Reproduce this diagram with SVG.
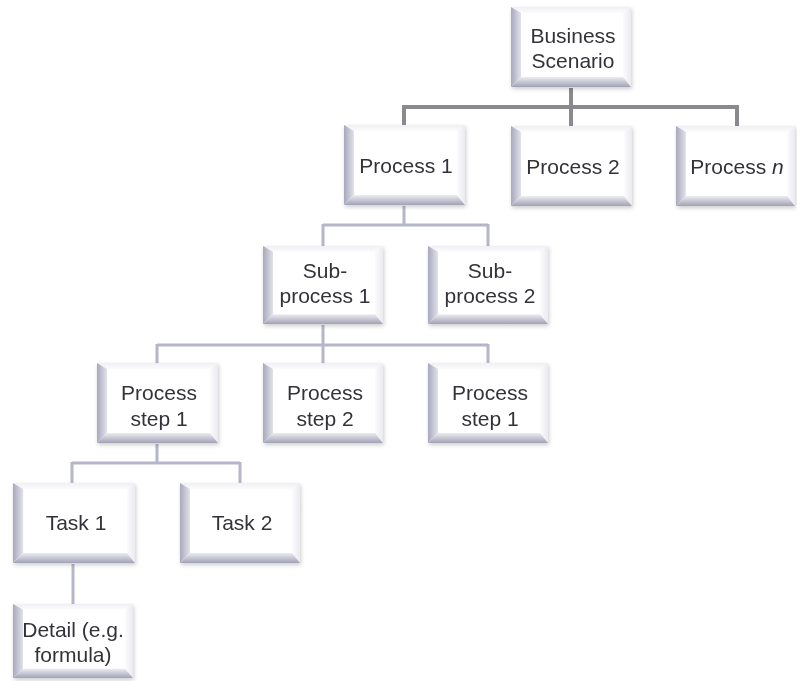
<svg xmlns="http://www.w3.org/2000/svg" xmlns:xlink="http://www.w3.org/1999/xlink" width="797" height="681" viewBox="0 0 797 681">
<style>
.lbl{font-family:"Liberation Sans",Arial,sans-serif;font-size:21px;fill:#333338;text-anchor:middle}
.c1{fill:none;stroke:#8a8a8e;stroke-width:4}
.c2{fill:none;stroke:#b6b6ca;stroke-width:3}
</style>
<defs>
<linearGradient id="gL" x1="0" y1="0" x2="1" y2="0">
<stop offset="0" stop-color="#a8a8bc"/><stop offset="1" stop-color="#e2e2ec"/>
</linearGradient>
<linearGradient id="gB" x1="0" y1="0" x2="0" y2="1">
<stop offset="0" stop-color="#ececf2"/><stop offset="1" stop-color="#a2a2b6"/>
</linearGradient>
<linearGradient id="gT" x1="0" y1="0" x2="0" y2="1">
<stop offset="0" stop-color="#f0f0f4"/><stop offset="1" stop-color="#fcfcfd"/>
</linearGradient>
<linearGradient id="gR" x1="0" y1="0" x2="1" y2="0">
<stop offset="0" stop-color="#fcfcfd"/><stop offset="1" stop-color="#eaeaf0"/>
</linearGradient>
<filter id="sh" x="-10%" y="-10%" width="125%" height="130%">
<feGaussianBlur in="SourceAlpha" stdDeviation="2"/>
<feOffset dx="1" dy="2" result="b"/>
<feComponentTransfer><feFuncA type="linear" slope="0.2"/></feComponentTransfer>
<feMerge><feMergeNode/><feMergeNode in="SourceGraphic"/></feMerge>
</filter>
<symbol id="box" viewBox="0 0 120 80" preserveAspectRatio="none">
<rect x="0" y="0" width="120" height="80" fill="#ffffff"/>
<polygon points="0,0 120,0 112,6 10,6" fill="url(#gT)"/>
<polygon points="120,0 120,80 112,70 112,6" fill="url(#gR)"/>
<polygon points="0,0 10,6 10,70 0,80" fill="url(#gL)"/>
<polygon points="0,80 10,70 112,70 120,80" fill="url(#gB)"/>
</symbol>
</defs>

<g id="connectors">
<path class="c1" d="M571 88 V107 M404 107 H737 M404 105 V125 M571 107 V126 M737 105 V126"/>
<path class="c2" d="M404 206 V225 M323 225 H488 M323 224 V246 M488 224 V246"/>
<path class="c2" d="M323 325 V345 M157 345 H488 M157 344 V363 M323 345 V363 M488 344 V363"/>
<path class="c2" d="M157 444 V463 M72 463 H240 M72 462 V483 M240 462 V483"/>
<path class="c2" d="M73 564 V604"/>
</g>

<g id="business-scenario" filter="url(#sh)">
<use xlink:href="#box" x="511" y="7" width="120" height="80"/>
<text class="lbl" x="573" y="43">Business</text>
<text class="lbl" x="573" y="68">Scenario</text>
</g>
<g id="process-1" filter="url(#sh)">
<use xlink:href="#box" x="344" y="125" width="121" height="80"/>
<text class="lbl" x="406" y="173">Process 1</text>
</g>
<g id="process-2" filter="url(#sh)">
<use xlink:href="#box" x="511" y="126" width="121" height="80"/>
<text class="lbl" x="573" y="174">Process 2</text>
</g>
<g id="process-n" filter="url(#sh)">
<use xlink:href="#box" x="676" y="126" width="119" height="80"/>
<text class="lbl" x="737" y="174">Process <tspan font-style="italic">n</tspan></text>
</g>
<g id="subprocess-1" filter="url(#sh)">
<use xlink:href="#box" x="263" y="246" width="120" height="78"/>
<text class="lbl" x="325" y="278">Sub-</text>
<text class="lbl" x="325" y="303">process 1</text>
</g>
<g id="subprocess-2" filter="url(#sh)">
<use xlink:href="#box" x="428" y="246" width="120" height="78"/>
<text class="lbl" x="490" y="278">Sub-</text>
<text class="lbl" x="490" y="303">process 2</text>
</g>
<g id="process-step-1" filter="url(#sh)">
<use xlink:href="#box" x="97" y="363" width="121" height="80"/>
<text class="lbl" x="159" y="400">Process</text>
<text class="lbl" x="159" y="426">step 1</text>
</g>
<g id="process-step-2" filter="url(#sh)">
<use xlink:href="#box" x="263" y="363" width="120" height="80"/>
<text class="lbl" x="325" y="400">Process</text>
<text class="lbl" x="325" y="426">step 2</text>
</g>
<g id="process-step-1b" filter="url(#sh)">
<use xlink:href="#box" x="428" y="363" width="120" height="80"/>
<text class="lbl" x="490" y="400">Process</text>
<text class="lbl" x="490" y="426">step 1</text>
</g>
<g id="task-1" filter="url(#sh)">
<use xlink:href="#box" x="13" y="483" width="122" height="80"/>
<text class="lbl" x="76" y="530">Task 1</text>
</g>
<g id="task-2" filter="url(#sh)">
<use xlink:href="#box" x="180" y="483" width="120" height="80"/>
<text class="lbl" x="242" y="530">Task 2</text>
</g>
<g id="detail" filter="url(#sh)">
<use xlink:href="#box" x="13" y="604" width="120" height="74"/>
<text class="lbl" x="73" y="637">Detail (e.g.</text>
<text class="lbl" x="73" y="662">formula)</text>
</g>
</svg>
